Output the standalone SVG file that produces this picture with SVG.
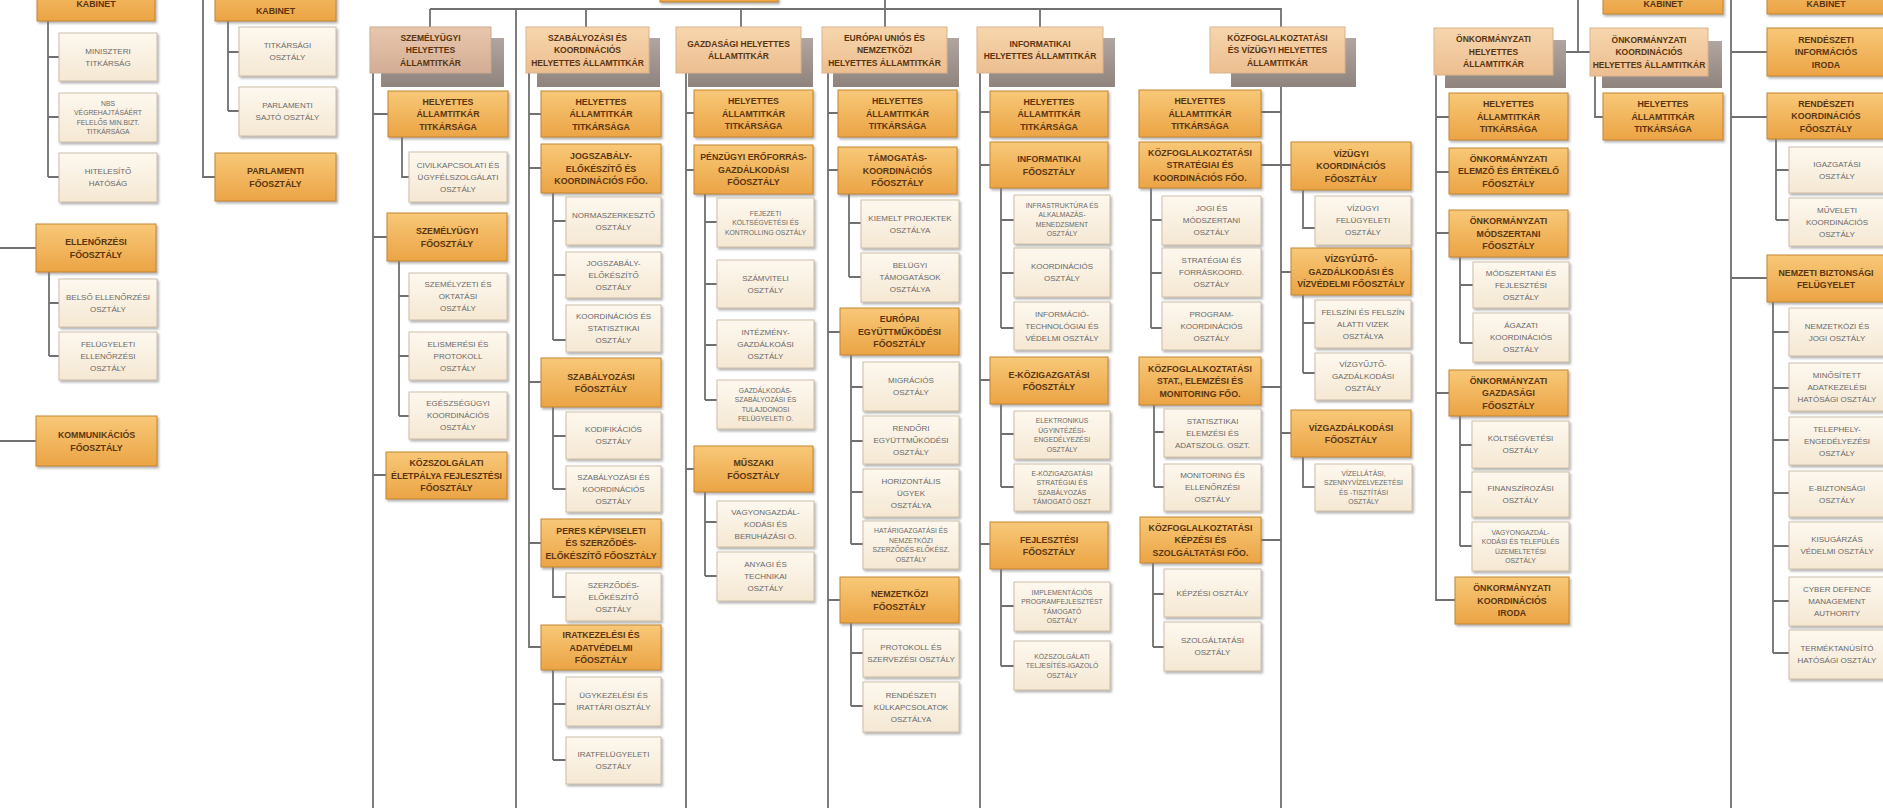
<svg xmlns="http://www.w3.org/2000/svg" width="1883" height="808" viewBox="0 0 1883 808">
<defs>
<linearGradient id="go" x1="0" y1="0" x2="0" y2="1"><stop offset="0" stop-color="#f8c878"/><stop offset="1" stop-color="#eba445"/></linearGradient>
<linearGradient id="gl" x1="0" y1="0" x2="0" y2="1"><stop offset="0" stop-color="#fdf8ef"/><stop offset="1" stop-color="#f5e8d3"/></linearGradient>
<linearGradient id="gt" x1="0" y1="0" x2="0" y2="1"><stop offset="0" stop-color="#f7d6ad"/><stop offset="1" stop-color="#ecbe90"/></linearGradient>
<linearGradient id="gp" x1="0" y1="0" x2="0" y2="1"><stop offset="0" stop-color="#e8c7ad"/><stop offset="1" stop-color="#d3ad95"/></linearGradient>
<linearGradient id="gs" x1="0" y1="0" x2="0" y2="1"><stop offset="0" stop-color="#b0a5a0"/><stop offset="1" stop-color="#8f837e"/></linearGradient>
<filter id="ds" x="-10%" y="-10%" width="130%" height="140%"><feDropShadow dx="1.5" dy="2" stdDeviation="1" flood-color="#777" flood-opacity="0.55"/></filter>
</defs>
<style>
.o{fill:url(#go);stroke:#c4862f;stroke-width:1;filter:url(#ds)}
.l{fill:url(#gl);stroke:#cdbfa8;stroke-width:1;filter:url(#ds)}
.t{fill:url(#gt);stroke:#d9b38c;stroke-width:1}
.p{fill:url(#gp);stroke:#c9a891;stroke-width:1}
.s{fill:url(#gs)}
text{font-family:"Liberation Sans",Arial,sans-serif;text-anchor:middle}
.ot{font-size:8.8px;font-weight:bold;fill:#5a3510}
.tt{font-size:8.5px;font-weight:bold;fill:#5a3510}
.lt{font-size:8px;fill:#6a6a6a}
.ls{font-size:6.8px;fill:#6a6a6a}
.c{fill:none;stroke:#707070;stroke-width:1.8}
</style>
<rect width="1883" height="808" fill="#ffffff"/>
<g id="connectors">
<path class="c" d="M48 21V177M48 57H59M48 117H59M48 177H59M0 248H36M0 441H36M49 272V356M49 303H59M49 356H59M203 0V177H215M228 21V111M228 52H239M228 111H239"/>
<path class="c" d="M430 9H1281V27M430 9V27M586 9V27M741 9V27M1040 9V27M885 0V27M516 9V808"/>
<path class="c" d="M373 73V808M373 114H388M373 237H387M373 475H386M402 137V177H409M399 261V416M399 296H409M399 356H409M399 416H409"/>
<path class="c" d="M529 73V647H541M529 114H541M529 168H541M529 382H541M529 543H541M553 193V340M553 221H566M553 275H566M553 340H566M553 407V489M553 436H566M553 489H566M553 567V597H566M553 670V760M553 704H566M553 760H566"/>
<path class="c" d="M686 73V808M686 113H694M686 170H694M686 469H694M705 194V400M705 222H717M705 284H717M705 345H717M705 400H717M705 492V576M705 522H717M705 576H717"/>
<path class="c" d="M828 73V808M828 113H838M828 170H838M828 332H840M828 600H840M849 194V277M849 223H861M849 277H861M851 355V544M851 387H863M851 441H863M851 492H863M851 544H863M851 623V706M851 653H863M851 706H863"/>
<path class="c" d="M980 73V808M980 112H990M980 165H990M980 380H990M980 544H990M1001 188V328M1001 220H1014M1001 273H1014M1001 328H1014M1001 404V487M1001 434H1014M1001 487H1014M1001 569V666M1001 606H1014M1001 666H1014"/>
<path class="c" d="M1281 73V808M1261 112H1281M1261 165H1291M1281 272H1291M1261 387H1281M1281 433H1291M1261 540H1281M1151 188V328M1151 220H1162M1151 273H1162M1151 328H1162M1154 405V487M1154 432H1164M1154 487H1164M1153 563V647M1153 594H1164M1153 647H1164M1303 190V228H1315M1303 295V373M1303 323H1315M1303 373H1315M1303 457V487H1315"/>
<path class="c" d="M1436 75V600H1455M1436 117H1449M1436 172H1449M1436 233H1449M1436 393H1449M1460 257V343M1460 285H1473M1460 343H1473M1460 416V546M1460 445H1472M1460 492H1472M1460 546H1472M1553 52H1590M1578 0V52M1595 76V117H1603"/>
<path class="c" d="M1731 0V808M1731 52H1767M1731 117H1767M1731 278H1767M1776 139V220M1776 170H1789M1776 220H1789M1773 302V653M1773 332H1789M1773 388H1789M1773 440H1789M1773 493H1789M1773 546H1789M1773 601H1789M1773 653H1789"/>
</g>

<g id="top-center"><rect class="o" x="660" y="-40" width="118" height="42"/></g>

<g id="a1"><rect class="o" x="37" y="-30" width="118" height="51"/><text class="ot" x="96" y="7">KABINET</text></g>
<g id="a2"><rect class="l" x="59" y="33" width="98" height="48"/><text class="lt" x="108" y="53.9"><tspan x="108">MINISZTERI</tspan><tspan x="108" dy="12">TITKÁRSÁG</tspan></text></g>
<g id="a3"><rect class="l" x="59" y="93" width="98" height="49"/><text class="ls" x="108" y="105.7"><tspan x="108">NBS</tspan><tspan x="108" dy="9.5">VÉGREHAJTÁSÁÉRT</tspan><tspan x="108" dy="9.5">FELELŐS MIN.BIZT.</tspan><tspan x="108" dy="9.5">TITKÁRSÁGA</tspan></text></g>
<g id="a4"><rect class="l" x="59" y="153" width="98" height="49"/><text class="lt" x="108" y="174.4"><tspan x="108">HITELESÍTŐ</tspan><tspan x="108" dy="12">HATÓSÁG</tspan></text></g>
<g id="a5"><rect class="o" x="36" y="224" width="120" height="48"/><text class="ot" x="96" y="245"><tspan x="96">ELLENŐRZÉSI</tspan><tspan x="96" dy="12.5">FŐOSZTÁLY</tspan></text></g>
<g id="a6"><rect class="l" x="59" y="279" width="98" height="48"/><text class="lt" x="108" y="299.9"><tspan x="108">BELSŐ ELLENŐRZÉSI</tspan><tspan x="108" dy="12">OSZTÁLY</tspan></text></g>
<g id="a7"><rect class="l" x="59" y="332" width="98" height="48"/><text class="lt" x="108" y="346.9"><tspan x="108">FELÜGYELETI</tspan><tspan x="108" dy="12">ELLENŐRZÉSI</tspan><tspan x="108" dy="12">OSZTÁLY</tspan></text></g>
<g id="a8"><rect class="o" x="36" y="416" width="121" height="50"/><text class="ot" x="96.5" y="438"><tspan x="96.5">KOMMUNIKÁCIÓS</tspan><tspan x="96.5" dy="12.5">FŐOSZTÁLY</tspan></text></g>
<g id="a9"><rect class="o" x="215" y="-30" width="121" height="51"/><text class="ot" x="275.5" y="14">KABINET</text></g>
<g id="a10"><rect class="l" x="239" y="27" width="97" height="49"/><text class="lt" x="287.5" y="48.4"><tspan x="287.5">TITKÁRSÁGI</tspan><tspan x="287.5" dy="12">OSZTÁLY</tspan></text></g>
<g id="a11"><rect class="l" x="239" y="87" width="97" height="49"/><text class="lt" x="287.5" y="108.4"><tspan x="287.5">PARLAMENTI</tspan><tspan x="287.5" dy="12">SAJTÓ OSZTÁLY</tspan></text></g>
<g id="a12"><rect class="o" x="215" y="153" width="121" height="48"/><text class="ot" x="275.5" y="174"><tspan x="275.5">PARLAMENTI</tspan><tspan x="275.5" dy="12.5">FŐOSZTÁLY</tspan></text></g>

<g id="b0"><rect class="s" x="381" y="38" width="123" height="49"/><rect class="p" x="370" y="27" width="121" height="46"/><text class="tt" x="430.5" y="40.55"><tspan x="430.5">SZEMÉLYÜGYI</tspan><tspan x="430.5" dy="12.5">HELYETTES</tspan><tspan x="430.5" dy="12.5">ÁLLAMTITKÁR</tspan></text></g>
<g id="b1"><rect class="o" x="388" y="91" width="120" height="46"/><text class="ot" x="448" y="104.7"><tspan x="448">HELYETTES</tspan><tspan x="448" dy="12.5">ÁLLAMTITKÁR</tspan><tspan x="448" dy="12.5">TITKÁRSÁGA</tspan></text></g>
<g id="b2"><rect class="l" x="409" y="152" width="98" height="50"/><text class="lt" x="458" y="167.9"><tspan x="458">CIVILKAPCSOLATI ÉS</tspan><tspan x="458" dy="12">ÜGYFÉLSZOLGÁLATI</tspan><tspan x="458" dy="12">OSZTÁLY</tspan></text></g>
<g id="b3"><rect class="o" x="387" y="213" width="120" height="48"/><text class="ot" x="447" y="234"><tspan x="447">SZEMÉLYÜGYI</tspan><tspan x="447" dy="12.5">FŐOSZTÁLY</tspan></text></g>
<g id="b4"><rect class="l" x="409" y="273" width="98" height="47"/><text class="lt" x="458" y="287.4"><tspan x="458">SZEMÉLYZETI ÉS</tspan><tspan x="458" dy="12">OKTATÁSI</tspan><tspan x="458" dy="12">OSZTÁLY</tspan></text></g>
<g id="b5"><rect class="l" x="409" y="332" width="98" height="48"/><text class="lt" x="458" y="346.9"><tspan x="458">ELISMERÉSI ÉS</tspan><tspan x="458" dy="12">PROTOKOLL</tspan><tspan x="458" dy="12">OSZTÁLY</tspan></text></g>
<g id="b6"><rect class="l" x="409" y="392" width="98" height="47"/><text class="lt" x="458" y="406.4"><tspan x="458">EGÉSZSÉGÜGYI</tspan><tspan x="458" dy="12">KOORDINÁCIÓS</tspan><tspan x="458" dy="12">OSZTÁLY</tspan></text></g>
<g id="b7"><rect class="o" x="386" y="452" width="121" height="47"/><text class="ot" x="446.5" y="466.2"><tspan x="446.5">KÖZSZOLGÁLATI</tspan><tspan x="446.5" dy="12.5">ÉLETPÁLYA FEJLESZTÉSI</tspan><tspan x="446.5" dy="12.5">FŐOSZTÁLY</tspan></text></g>

<g id="c0"><rect class="s" x="537" y="38" width="123" height="49"/><rect class="t" x="526" y="27" width="123" height="46"/><text class="tt" x="587.5" y="40.55"><tspan x="587.5">SZABÁLYOZÁSI ÉS</tspan><tspan x="587.5" dy="12.5">KOORDINÁCIÓS</tspan><tspan x="587.5" dy="12.5">HELYETTES ÁLLAMTITKÁR</tspan></text></g>
<g id="c1"><rect class="o" x="541" y="91" width="120" height="46"/><text class="ot" x="601" y="104.7"><tspan x="601">HELYETTES</tspan><tspan x="601" dy="12.5">ÁLLAMTITKÁR</tspan><tspan x="601" dy="12.5">TITKÁRSÁGA</tspan></text></g>
<g id="c2"><rect class="o" x="541" y="144" width="120" height="49"/><text class="ot" x="601" y="159.2"><tspan x="601">JOGSZABÁLY-</tspan><tspan x="601" dy="12.5">ELŐKÉSZÍTŐ ÉS</tspan><tspan x="601" dy="12.5">KOORDINÁCIÓS FŐO.</tspan></text></g>
<g id="c3"><rect class="l" x="566" y="197" width="95" height="48"/><text class="lt" x="613.5" y="217.9"><tspan x="613.5">NORMASZERKESZTŐ</tspan><tspan x="613.5" dy="12">OSZTÁLY</tspan></text></g>
<g id="c4"><rect class="l" x="566" y="252" width="95" height="46"/><text class="lt" x="613.5" y="265.9"><tspan x="613.5">JOGSZABÁLY-</tspan><tspan x="613.5" dy="12">ELŐKÉSZÍTŐ</tspan><tspan x="613.5" dy="12">OSZTÁLY</tspan></text></g>
<g id="c5"><rect class="l" x="566" y="305" width="95" height="47"/><text class="lt" x="613.5" y="319.4"><tspan x="613.5">KOORDINÁCIÓS ÉS</tspan><tspan x="613.5" dy="12">STATISZTIKAI</tspan><tspan x="613.5" dy="12">OSZTÁLY</tspan></text></g>
<g id="c6"><rect class="o" x="541" y="358" width="120" height="49"/><text class="ot" x="601" y="379.5"><tspan x="601">SZABÁLYOZÁSI</tspan><tspan x="601" dy="12.5">FŐOSZTÁLY</tspan></text></g>
<g id="c7"><rect class="l" x="566" y="412" width="95" height="47"/><text class="lt" x="613.5" y="432.4"><tspan x="613.5">KODIFIKÁCIÓS</tspan><tspan x="613.5" dy="12">OSZTÁLY</tspan></text></g>
<g id="c8"><rect class="l" x="566" y="466" width="95" height="46"/><text class="lt" x="613.5" y="479.9"><tspan x="613.5">SZABÁLYOZÁSI ÉS</tspan><tspan x="613.5" dy="12">KOORDINÁCIÓS</tspan><tspan x="613.5" dy="12">OSZTÁLY</tspan></text></g>
<g id="c9"><rect class="o" x="541" y="519" width="120" height="48"/><text class="ot" x="601" y="533.7"><tspan x="601">PERES KÉPVISELETI</tspan><tspan x="601" dy="12.5">ÉS SZERZŐDÉS-</tspan><tspan x="601" dy="12.5">ELŐKÉSZÍTŐ FŐOSZTÁLY</tspan></text></g>
<g id="c10"><rect class="l" x="566" y="573" width="95" height="48"/><text class="lt" x="613.5" y="587.9"><tspan x="613.5">SZERZŐDÉS-</tspan><tspan x="613.5" dy="12">ELŐKÉSZÍTŐ</tspan><tspan x="613.5" dy="12">OSZTÁLY</tspan></text></g>
<g id="c11"><rect class="o" x="541" y="625" width="120" height="45"/><text class="ot" x="601" y="638.2"><tspan x="601">IRATKEZELÉSI ÉS</tspan><tspan x="601" dy="12.5">ADATVÉDELMI</tspan><tspan x="601" dy="12.5">FŐOSZTÁLY</tspan></text></g>
<g id="c12"><rect class="l" x="566" y="677" width="95" height="49"/><text class="lt" x="613.5" y="698.4"><tspan x="613.5">ÜGYKEZELÉSI ÉS</tspan><tspan x="613.5" dy="12">IRATTÁRI OSZTÁLY</tspan></text></g>
<g id="c13"><rect class="l" x="566" y="737" width="95" height="47"/><text class="lt" x="613.5" y="757.4"><tspan x="613.5">IRATFELÜGYELETI</tspan><tspan x="613.5" dy="12">OSZTÁLY</tspan></text></g>

<g id="d0"><rect class="s" x="688" y="38" width="125" height="49"/><rect class="t" x="676" y="27" width="125" height="46"/><text class="tt" x="738.5" y="46.8"><tspan x="738.5">GAZDASÁGI HELYETTES</tspan><tspan x="738.5" dy="12.5">ÁLLAMTITKÁR</tspan></text></g>
<g id="d1"><rect class="o" x="694" y="90" width="119" height="47"/><text class="ot" x="753.5" y="104.2"><tspan x="753.5">HELYETTES</tspan><tspan x="753.5" dy="12.5">ÁLLAMTITKÁR</tspan><tspan x="753.5" dy="12.5">TITKÁRSÁGA</tspan></text></g>
<g id="d2"><rect class="o" x="694" y="145" width="119" height="49"/><text class="ot" x="753.5" y="160.2"><tspan x="753.5">PÉNZÜGYI ERŐFORRÁS-</tspan><tspan x="753.5" dy="12.5">GAZDÁLKODÁSI</tspan><tspan x="753.5" dy="12.5">FŐOSZTÁLY</tspan></text></g>
<g id="d3"><rect class="l" x="717" y="198" width="97" height="49"/><text class="ls" x="765.5" y="215.5"><tspan x="765.5">FEJEZETI</tspan><tspan x="765.5" dy="9.5">KÖLTSÉGVETÉSI ÉS</tspan><tspan x="765.5" dy="9.5">KONTROLLING OSZTÁLY</tspan></text></g>
<g id="d4"><rect class="l" x="717" y="260" width="97" height="48"/><text class="lt" x="765.5" y="280.9"><tspan x="765.5">SZÁMVITELI</tspan><tspan x="765.5" dy="12">OSZTÁLY</tspan></text></g>
<g id="d5"><rect class="l" x="717" y="320" width="97" height="48"/><text class="lt" x="765.5" y="334.9"><tspan x="765.5">INTÉZMÉNY-</tspan><tspan x="765.5" dy="12">GAZDÁLKOÁSI</tspan><tspan x="765.5" dy="12">OSZTÁLY</tspan></text></g>
<g id="d6"><rect class="l" x="717" y="380" width="97" height="49"/><text class="ls" x="765.5" y="392.7"><tspan x="765.5">GAZDÁLKODÁS-</tspan><tspan x="765.5" dy="9.5">SZABÁLYOZÁSI ÉS</tspan><tspan x="765.5" dy="9.5">TULAJDONOSI</tspan><tspan x="765.5" dy="9.5">FELÜGYELETI O.</tspan></text></g>
<g id="d7"><rect class="o" x="694" y="446" width="119" height="46"/><text class="ot" x="753.5" y="466"><tspan x="753.5">MŰSZAKI</tspan><tspan x="753.5" dy="12.5">FŐOSZTÁLY</tspan></text></g>
<g id="d8"><rect class="l" x="717" y="501" width="97" height="46"/><text class="lt" x="765.5" y="514.9"><tspan x="765.5">VAGYONGAZDÁL-</tspan><tspan x="765.5" dy="12">KODÁSI ÉS</tspan><tspan x="765.5" dy="12">BERUHÁZÁSI O.</tspan></text></g>
<g id="d9"><rect class="l" x="717" y="552" width="97" height="49"/><text class="lt" x="765.5" y="567.4"><tspan x="765.5">ANYAGI ÉS</tspan><tspan x="765.5" dy="12">TECHNIKAI</tspan><tspan x="765.5" dy="12">OSZTÁLY</tspan></text></g>

<g id="e0"><rect class="s" x="833" y="38" width="126" height="49"/><rect class="t" x="822" y="27" width="125" height="46"/><text class="tt" x="884.5" y="40.55"><tspan x="884.5">EURÓPAI UNIÓS ÉS</tspan><tspan x="884.5" dy="12.5">NEMZETKÖZI</tspan><tspan x="884.5" dy="12.5">HELYETTES ÁLLAMTITKÁR</tspan></text></g>
<g id="e1"><rect class="o" x="838" y="90" width="119" height="47"/><text class="ot" x="897.5" y="104.2"><tspan x="897.5">HELYETTES</tspan><tspan x="897.5" dy="12.5">ÁLLAMTITKÁR</tspan><tspan x="897.5" dy="12.5">TITKÁRSÁGA</tspan></text></g>
<g id="e2"><rect class="o" x="838" y="147" width="119" height="47"/><text class="ot" x="897.5" y="161.2"><tspan x="897.5">TÁMOGATÁS-</tspan><tspan x="897.5" dy="12.5">KOORDINÁCIÓS</tspan><tspan x="897.5" dy="12.5">FŐOSZTÁLY</tspan></text></g>
<g id="e3"><rect class="l" x="861" y="200" width="98" height="48"/><text class="lt" x="910" y="220.9"><tspan x="910">KIEMELT PROJEKTEK</tspan><tspan x="910" dy="12">OSZTÁLYA</tspan></text></g>
<g id="e4"><rect class="l" x="861" y="253" width="98" height="49"/><text class="lt" x="910" y="268.4"><tspan x="910">BELÜGYI</tspan><tspan x="910" dy="12">TÁMOGATÁSOK</tspan><tspan x="910" dy="12">OSZTÁLYA</tspan></text></g>
<g id="e5"><rect class="o" x="840" y="308" width="119" height="47"/><text class="ot" x="899.5" y="322.2"><tspan x="899.5">EURÓPAI</tspan><tspan x="899.5" dy="12.5">EGYÜTTMŰKÖDÉSI</tspan><tspan x="899.5" dy="12.5">FŐOSZTÁLY</tspan></text></g>
<g id="e6"><rect class="l" x="863" y="362" width="96" height="49"/><text class="lt" x="911" y="383.4"><tspan x="911">MIGRÁCIÓS</tspan><tspan x="911" dy="12">OSZTÁLY</tspan></text></g>
<g id="e7"><rect class="l" x="863" y="416" width="96" height="48"/><text class="lt" x="911" y="430.9"><tspan x="911">RENDŐRI</tspan><tspan x="911" dy="12">EGYÜTTMŰKÖDÉSI</tspan><tspan x="911" dy="12">OSZTÁLY</tspan></text></g>
<g id="e8"><rect class="l" x="863" y="469" width="96" height="48"/><text class="lt" x="911" y="483.9"><tspan x="911">HORIZONTÁLIS</tspan><tspan x="911" dy="12">ÜGYEK</tspan><tspan x="911" dy="12">OSZTÁLYA</tspan></text></g>
<g id="e9"><rect class="l" x="863" y="521" width="96" height="48"/><text class="ls" x="911" y="533.2"><tspan x="911">HATÁRIGAZGATÁSI ÉS</tspan><tspan x="911" dy="9.5">NEMZETKÖZI</tspan><tspan x="911" dy="9.5">SZERZŐDÉS-ELŐKÉSZ.</tspan><tspan x="911" dy="9.5">OSZTÁLY</tspan></text></g>
<g id="e10"><rect class="o" x="840" y="577" width="119" height="46"/><text class="ot" x="899.5" y="597"><tspan x="899.5">NEMZETKÖZI</tspan><tspan x="899.5" dy="12.5">FŐOSZTÁLY</tspan></text></g>
<g id="e11"><rect class="l" x="863" y="629" width="96" height="48"/><text class="lt" x="911" y="649.9"><tspan x="911">PROTOKOLL ÉS</tspan><tspan x="911" dy="12">SZERVEZÉSI OSZTÁLY</tspan></text></g>
<g id="e12"><rect class="l" x="863" y="682" width="96" height="50"/><text class="lt" x="911" y="697.9"><tspan x="911">RENDÉSZETI</tspan><tspan x="911" dy="12">KÜLKAPCSOLATOK</tspan><tspan x="911" dy="12">OSZTÁLYA</tspan></text></g>

<g id="f0"><rect class="s" x="989" y="38" width="126" height="49"/><rect class="t" x="977" y="27" width="126" height="46"/><text class="tt" x="1040" y="46.8"><tspan x="1040">INFORMATIKAI</tspan><tspan x="1040" dy="12.5">HELYETTES ÁLLAMTITKÁR</tspan></text></g>
<g id="f1"><rect class="o" x="990" y="91" width="118" height="46"/><text class="ot" x="1049" y="104.7"><tspan x="1049">HELYETTES</tspan><tspan x="1049" dy="12.5">ÁLLAMTITKÁR</tspan><tspan x="1049" dy="12.5">TITKÁRSÁGA</tspan></text></g>
<g id="f2"><rect class="o" x="990" y="142" width="118" height="46"/><text class="ot" x="1049" y="162"><tspan x="1049">INFORMATIKAI</tspan><tspan x="1049" dy="12.5">FŐOSZTÁLY</tspan></text></g>
<g id="f3"><rect class="l" x="1014" y="195" width="96" height="49"/><text class="ls" x="1062" y="207.7"><tspan x="1062">INFRASTRUKTÚRA ÉS</tspan><tspan x="1062" dy="9.5">ALKALMAZÁS-</tspan><tspan x="1062" dy="9.5">MENEDZSMENT</tspan><tspan x="1062" dy="9.5">OSZTÁLY</tspan></text></g>
<g id="f4"><rect class="l" x="1014" y="248" width="96" height="49"/><text class="lt" x="1062" y="269.4"><tspan x="1062">KOORDINÁCIÓS</tspan><tspan x="1062" dy="12">OSZTÁLY</tspan></text></g>
<g id="f5"><rect class="l" x="1014" y="302" width="96" height="48"/><text class="lt" x="1062" y="316.9"><tspan x="1062">INFORMÁCIÓ-</tspan><tspan x="1062" dy="12">TECHNOLÓGIAI ÉS</tspan><tspan x="1062" dy="12">VÉDELMI OSZTÁLY</tspan></text></g>
<g id="f6"><rect class="o" x="990" y="357" width="118" height="47"/><text class="ot" x="1049" y="377.5"><tspan x="1049">E-KÖZIGAZGATÁSI</tspan><tspan x="1049" dy="12.5">FŐOSZTÁLY</tspan></text></g>
<g id="f7"><rect class="l" x="1014" y="411" width="96" height="48"/><text class="ls" x="1062" y="423.2"><tspan x="1062">ELEKTRONIKUS</tspan><tspan x="1062" dy="9.5">ÜGYINTÉZÉSI-</tspan><tspan x="1062" dy="9.5">ENGEDÉLYEZÉSI</tspan><tspan x="1062" dy="9.5">OSZTÁLY</tspan></text></g>
<g id="f8"><rect class="l" x="1014" y="464" width="96" height="47"/><text class="ls" x="1062" y="475.7"><tspan x="1062">E-KÖZIGAZGATÁSI</tspan><tspan x="1062" dy="9.5">STRATÉGIAI ÉS</tspan><tspan x="1062" dy="9.5">SZABÁLYOZÁS</tspan><tspan x="1062" dy="9.5">TÁMOGATÓ OSZT</tspan></text></g>
<g id="f9"><rect class="o" x="990" y="522" width="118" height="47"/><text class="ot" x="1049" y="542.5"><tspan x="1049">FEJLESZTÉSI</tspan><tspan x="1049" dy="12.5">FŐOSZTÁLY</tspan></text></g>
<g id="f10"><rect class="l" x="1014" y="582" width="96" height="49"/><text class="ls" x="1062" y="594.7"><tspan x="1062">IMPLEMENTÁCIÓS</tspan><tspan x="1062" dy="9.5">PROGRAMFEJLESZTÉST</tspan><tspan x="1062" dy="9.5">TÁMOGATÓ</tspan><tspan x="1062" dy="9.5">OSZTÁLY</tspan></text></g>
<g id="f11"><rect class="l" x="1014" y="641" width="96" height="49"/><text class="ls" x="1062" y="658.5"><tspan x="1062">KÖZSZOLGÁLATI</tspan><tspan x="1062" dy="9.5">TELJESÍTÉS-IGAZOLÓ</tspan><tspan x="1062" dy="9.5">OSZTÁLY</tspan></text></g>

<g id="g0"><rect class="s" x="1231" y="38" width="125" height="49"/><rect class="t" x="1210" y="27" width="135" height="46"/><text class="tt" x="1277.5" y="40.55"><tspan x="1277.5">KÖZFOGLALKOZTATÁSI</tspan><tspan x="1277.5" dy="12.5">ÉS VÍZÜGYI HELYETTES</tspan><tspan x="1277.5" dy="12.5">ÁLLAMTITKÁR</tspan></text></g>
<g id="g1"><rect class="o" x="1139" y="90" width="122" height="47"/><text class="ot" x="1200" y="104.2"><tspan x="1200">HELYETTES</tspan><tspan x="1200" dy="12.5">ÁLLAMTITKÁR</tspan><tspan x="1200" dy="12.5">TITKÁRSÁGA</tspan></text></g>
<g id="g2"><rect class="o" x="1139" y="142" width="122" height="46"/><text class="ot" x="1200" y="155.7"><tspan x="1200">KÖZFOGLALKOZTATÁSI</tspan><tspan x="1200" dy="12.5">STRATÉGIAI ÉS</tspan><tspan x="1200" dy="12.5">KOORDINÁCIÓS FŐO.</tspan></text></g>
<g id="g3"><rect class="l" x="1162" y="196" width="99" height="49"/><text class="lt" x="1211.5" y="211.4"><tspan x="1211.5">JOGI ÉS</tspan><tspan x="1211.5" dy="12">MÓDSZERTANI</tspan><tspan x="1211.5" dy="12">OSZTÁLY</tspan></text></g>
<g id="g4"><rect class="l" x="1162" y="248" width="99" height="49"/><text class="lt" x="1211.5" y="263.4"><tspan x="1211.5">STRATÉGIAI ÉS</tspan><tspan x="1211.5" dy="12">FORRÁSKOORD.</tspan><tspan x="1211.5" dy="12">OSZTÁLY</tspan></text></g>
<g id="g5"><rect class="l" x="1162" y="302" width="99" height="48"/><text class="lt" x="1211.5" y="316.9"><tspan x="1211.5">PROGRAM-</tspan><tspan x="1211.5" dy="12">KOORDINÁCIÓS</tspan><tspan x="1211.5" dy="12">OSZTÁLY</tspan></text></g>
<g id="g6"><rect class="o" x="1139" y="357" width="122" height="48"/><text class="ot" x="1200" y="371.7"><tspan x="1200">KÖZFOGLALKOZTATÁSI</tspan><tspan x="1200" dy="12.5">STAT., ELEMZÉSI ÉS</tspan><tspan x="1200" dy="12.5">MONITORING FŐO.</tspan></text></g>
<g id="g7"><rect class="l" x="1164" y="409" width="97" height="48"/><text class="lt" x="1212.5" y="423.9"><tspan x="1212.5">STATISZTIKAI</tspan><tspan x="1212.5" dy="12">ELEMZÉSI ÉS</tspan><tspan x="1212.5" dy="12">ADATSZOLG. OSZT.</tspan></text></g>
<g id="g8"><rect class="l" x="1164" y="464" width="97" height="47"/><text class="lt" x="1212.5" y="478.4"><tspan x="1212.5">MONITORING ÉS</tspan><tspan x="1212.5" dy="12">ELLENŐRZÉSI</tspan><tspan x="1212.5" dy="12">OSZTÁLY</tspan></text></g>
<g id="g9"><rect class="o" x="1140" y="517" width="121" height="46"/><text class="ot" x="1200.5" y="530.7"><tspan x="1200.5">KÖZFOGLALKOZTATÁSI</tspan><tspan x="1200.5" dy="12.5">KÉPZÉSI ÉS</tspan><tspan x="1200.5" dy="12.5">SZOLGÁLTATÁSI FŐO.</tspan></text></g>
<g id="g10"><rect class="l" x="1164" y="569" width="97" height="48"/><text class="lt" x="1212.5" y="595.9">KÉPZÉSI OSZTÁLY</text></g>
<g id="g11"><rect class="l" x="1164" y="622" width="97" height="49"/><text class="lt" x="1212.5" y="643.4"><tspan x="1212.5">SZOLGÁLTATÁSI</tspan><tspan x="1212.5" dy="12">OSZTÁLY</tspan></text></g>
<g id="g12"><rect class="o" x="1291" y="142" width="120" height="48"/><text class="ot" x="1351" y="156.7"><tspan x="1351">VÍZÜGYI</tspan><tspan x="1351" dy="12.5">KOORDINÁCIÓS</tspan><tspan x="1351" dy="12.5">FŐOSZTÁLY</tspan></text></g>
<g id="g13"><rect class="l" x="1315" y="196" width="96" height="49"/><text class="lt" x="1363" y="211.4"><tspan x="1363">VÍZÜGYI</tspan><tspan x="1363" dy="12">FELÜGYELETI</tspan><tspan x="1363" dy="12">OSZTÁLY</tspan></text></g>
<g id="g14"><rect class="o" x="1291" y="248" width="120" height="47"/><text class="ot" x="1351" y="262.2"><tspan x="1351">VÍZGYŰJTŐ-</tspan><tspan x="1351" dy="12.5">GAZDÁLKODÁSI ÉS</tspan><tspan x="1351" dy="12.5">VÍZVÉDELMI FŐOSZTÁLY</tspan></text></g>
<g id="g15"><rect class="l" x="1315" y="300" width="96" height="48"/><text class="lt" x="1363" y="314.9"><tspan x="1363">FELSZÍNI ÉS FELSZÍN</tspan><tspan x="1363" dy="12">ALATTI VIZEK</tspan><tspan x="1363" dy="12">OSZTÁLYA</tspan></text></g>
<g id="g16"><rect class="l" x="1315" y="353" width="96" height="47"/><text class="lt" x="1363" y="367.4"><tspan x="1363">VÍZGYŰJTŐ-</tspan><tspan x="1363" dy="12">GAZDÁLKODÁSI</tspan><tspan x="1363" dy="12">OSZTÁLY</tspan></text></g>
<g id="g17"><rect class="o" x="1291" y="410" width="120" height="47"/><text class="ot" x="1351" y="430.5"><tspan x="1351">VÍZGAZDÁLKODÁSI</tspan><tspan x="1351" dy="12.5">FŐOSZTÁLY</tspan></text></g>
<g id="g18"><rect class="l" x="1315" y="464" width="97" height="47"/><text class="ls" x="1363.5" y="475.7"><tspan x="1363.5">VÍZELLÁTÁSI,</tspan><tspan x="1363.5" dy="9.5">SZENNYVÍZELVEZETÉSI</tspan><tspan x="1363.5" dy="9.5">ÉS -TISZTÍTÁSI</tspan><tspan x="1363.5" dy="9.5">OSZTÁLY</tspan></text></g>

<g id="h0"><rect class="s" x="1445" y="40" width="121" height="48"/><rect class="t" x="1434" y="28" width="119" height="47"/><text class="tt" x="1493.5" y="42.05"><tspan x="1493.5">ÖNKORMÁNYZATI</tspan><tspan x="1493.5" dy="12.5">HELYETTES</tspan><tspan x="1493.5" dy="12.5">ÁLLAMTITKÁR</tspan></text></g>
<g id="h1"><rect class="o" x="1449" y="93" width="119" height="47"/><text class="ot" x="1508.5" y="107.2"><tspan x="1508.5">HELYETTES</tspan><tspan x="1508.5" dy="12.5">ÁLLAMTITKÁR</tspan><tspan x="1508.5" dy="12.5">TITKÁRSÁGA</tspan></text></g>
<g id="h2"><rect class="o" x="1449" y="148" width="119" height="46"/><text class="ot" x="1508.5" y="161.7"><tspan x="1508.5">ÖNKORMÁNYZATI</tspan><tspan x="1508.5" dy="12.5">ELEMZŐ ÉS ÉRTÉKELŐ</tspan><tspan x="1508.5" dy="12.5">FŐOSZTÁLY</tspan></text></g>
<g id="h3"><rect class="o" x="1449" y="210" width="119" height="47"/><text class="ot" x="1508.5" y="224.2"><tspan x="1508.5">ÖNKORMÁNYZATI</tspan><tspan x="1508.5" dy="12.5">MÓDSZERTANI</tspan><tspan x="1508.5" dy="12.5">FŐOSZTÁLY</tspan></text></g>
<g id="h4"><rect class="l" x="1473" y="262" width="96" height="46"/><text class="lt" x="1521" y="275.9"><tspan x="1521">MÓDSZERTANI ÉS</tspan><tspan x="1521" dy="12">FEJLESZTÉSI</tspan><tspan x="1521" dy="12">OSZTÁLY</tspan></text></g>
<g id="h5"><rect class="l" x="1473" y="313" width="96" height="49"/><text class="lt" x="1521" y="328.4"><tspan x="1521">ÁGAZATI</tspan><tspan x="1521" dy="12">KOORDINÁCIÓS</tspan><tspan x="1521" dy="12">OSZTÁLY</tspan></text></g>
<g id="h6"><rect class="o" x="1449" y="370" width="119" height="46"/><text class="ot" x="1508.5" y="383.7"><tspan x="1508.5">ÖNKORMÁNYZATI</tspan><tspan x="1508.5" dy="12.5">GAZDASÁGI</tspan><tspan x="1508.5" dy="12.5">FŐOSZTÁLY</tspan></text></g>
<g id="h7"><rect class="l" x="1472" y="421" width="97" height="47"/><text class="lt" x="1520.5" y="441.4"><tspan x="1520.5">KÖLTSÉGVETÉSI</tspan><tspan x="1520.5" dy="12">OSZTÁLY</tspan></text></g>
<g id="h8"><rect class="l" x="1472" y="472" width="97" height="45"/><text class="lt" x="1520.5" y="491.4"><tspan x="1520.5">FINANSZÍROZÁSI</tspan><tspan x="1520.5" dy="12">OSZTÁLY</tspan></text></g>
<g id="h9"><rect class="l" x="1472" y="522" width="97" height="49"/><text class="ls" x="1520.5" y="534.7"><tspan x="1520.5">VAGYONGAZDÁL-</tspan><tspan x="1520.5" dy="9.5">KODÁSI ÉS TELEPÜLÉS</tspan><tspan x="1520.5" dy="9.5">ÜZEMELTETÉSI</tspan><tspan x="1520.5" dy="9.5">OSZTÁLY</tspan></text></g>
<g id="h10"><rect class="o" x="1455" y="577" width="114" height="47"/><text class="ot" x="1512" y="591.2"><tspan x="1512">ÖNKORMÁNYZATI</tspan><tspan x="1512" dy="12.5">KOORDINÁCIÓS</tspan><tspan x="1512" dy="12.5">IRODA</tspan></text></g>

<g id="i0"><rect class="o" x="1603" y="-30" width="120" height="44"/><text class="ot" x="1663" y="7">KABINET</text></g>
<g id="i1"><rect class="s" x="1602" y="41" width="120" height="47"/><rect class="t" x="1590" y="28" width="118" height="48"/><text class="tt" x="1649" y="42.55"><tspan x="1649">ÖNKORMÁNYZATI</tspan><tspan x="1649" dy="12.5">KOORDINÁCIÓS</tspan><tspan x="1649" dy="12.5">HELYETTES ÁLLAMTITKÁR</tspan></text></g>
<g id="i2"><rect class="o" x="1603" y="93" width="120" height="47"/><text class="ot" x="1663" y="107.2"><tspan x="1663">HELYETTES</tspan><tspan x="1663" dy="12.5">ÁLLAMTITKÁR</tspan><tspan x="1663" dy="12.5">TITKÁRSÁGA</tspan></text></g>

<g id="j0"><rect class="o" x="1767" y="-30" width="118" height="44"/><text class="ot" x="1826" y="7">KABINET</text></g>
<g id="j1"><rect class="o" x="1767" y="28" width="118" height="48"/><text class="ot" x="1826" y="42.7"><tspan x="1826">RENDÉSZETI</tspan><tspan x="1826" dy="12.5">INFORMÁCIÓS</tspan><tspan x="1826" dy="12.5">IRODA</tspan></text></g>
<g id="j2"><rect class="o" x="1767" y="93" width="118" height="46"/><text class="ot" x="1826" y="106.7"><tspan x="1826">RENDÉSZETI</tspan><tspan x="1826" dy="12.5">KOORDINÁCIÓS</tspan><tspan x="1826" dy="12.5">FŐOSZTÁLY</tspan></text></g>
<g id="j3"><rect class="l" x="1789" y="147" width="96" height="46"/><text class="lt" x="1837" y="166.9"><tspan x="1837">IGAZGATÁSI</tspan><tspan x="1837" dy="12">OSZTÁLY</tspan></text></g>
<g id="j4"><rect class="l" x="1789" y="198" width="96" height="48"/><text class="lt" x="1837" y="212.9"><tspan x="1837">MŰVELETI</tspan><tspan x="1837" dy="12">KOORDINÁCIÓS</tspan><tspan x="1837" dy="12">OSZTÁLY</tspan></text></g>
<g id="j5"><rect class="o" x="1767" y="255" width="118" height="47"/><text class="ot" x="1826" y="275.5"><tspan x="1826">NEMZETI BIZTONSÁGI</tspan><tspan x="1826" dy="12.5">FELÜGYELET</tspan></text></g>
<g id="j6"><rect class="l" x="1789" y="308" width="96" height="48"/><text class="lt" x="1837" y="328.9"><tspan x="1837">NEMZETKÖZI ÉS</tspan><tspan x="1837" dy="12">JOGI OSZTÁLY</tspan></text></g>
<g id="j7"><rect class="l" x="1789" y="363" width="96" height="48"/><text class="lt" x="1837" y="377.9"><tspan x="1837">MINŐSÍTETT</tspan><tspan x="1837" dy="12">ADATKEZELÉSI</tspan><tspan x="1837" dy="12">HATÓSÁGI OSZTÁLY</tspan></text></g>
<g id="j8"><rect class="l" x="1789" y="417" width="96" height="48"/><text class="lt" x="1837" y="431.9"><tspan x="1837">TELEPHELY-</tspan><tspan x="1837" dy="12">ENGEDÉLYEZÉSI</tspan><tspan x="1837" dy="12">OSZTÁLY</tspan></text></g>
<g id="j9"><rect class="l" x="1789" y="471" width="96" height="46"/><text class="lt" x="1837" y="490.9"><tspan x="1837">E-BIZTONSÁGI</tspan><tspan x="1837" dy="12">OSZTÁLY</tspan></text></g>
<g id="j10"><rect class="l" x="1789" y="522" width="96" height="47"/><text class="lt" x="1837" y="542.4"><tspan x="1837">KISUGÁRZÁS</tspan><tspan x="1837" dy="12">VÉDELMI OSZTÁLY</tspan></text></g>
<g id="j11"><rect class="l" x="1789" y="577" width="96" height="49"/><text class="lt" x="1837" y="592.4"><tspan x="1837">CYBER DEFENCE</tspan><tspan x="1837" dy="12">MANAGEMENT</tspan><tspan x="1837" dy="12">AUTHORITY</tspan></text></g>
<g id="j12"><rect class="l" x="1789" y="630" width="96" height="49"/><text class="lt" x="1837" y="651.4"><tspan x="1837">TERMÉKTANÚSÍTÓ</tspan><tspan x="1837" dy="12">HATÓSÁGI OSZTÁLY</tspan></text></g>
</svg>
